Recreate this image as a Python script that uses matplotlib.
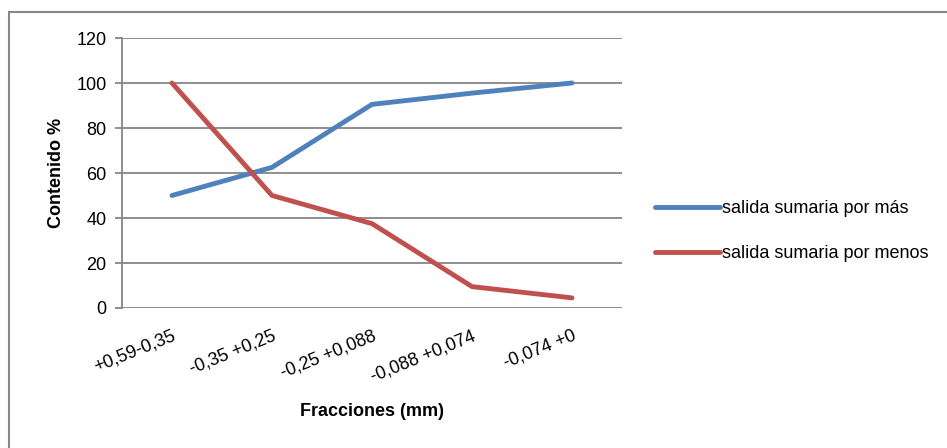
import matplotlib.pyplot as plt
from matplotlib.patches import Rectangle

plt.rcParams['font.family'] = ['Liberation Sans', 'DejaVu Sans']

fracciones = ["+0,59-0,35", "-0,35 +0,25", "-0,25 +0,088", "-0,088 +0,074", "-0,074 +0"]
por_mas = [50, 62.5, 90.5, 95.5, 100]
por_menos = [100, 50, 37.5, 9.5, 4.5]

BLUE = "#4F81BD"
RED = "#C0504D"
GRID = "#868686"

fig = plt.figure(figsize=(9.47, 4.48), dpi=100)
ax = fig.add_axes([122 / 947, 1 - 308 / 448, 500 / 947, 270 / 448])

# outer chart frame
fig.patches.append(Rectangle((9 / 947, -0.1), 1.2, 1 - 12 / 448 + 0.1,
                             transform=fig.transFigure, fill=False,
                             edgecolor="#888888", linewidth=1.5))

x = list(range(len(fracciones)))
ax.plot(x, por_mas, color=BLUE, linewidth=3.5, label="salida sumaria por más",
        solid_capstyle="round")
ax.plot(x, por_menos, color=RED, linewidth=3.5, label="salida sumaria por menos",
        solid_capstyle="round")

ax.set_xlim(-0.5, len(fracciones) - 0.5)
ax.set_ylim(0, 120)
ax.set_yticks(range(0, 121, 20))
ax.yaxis.grid(True, color=GRID, linewidth=1.3)
ax.set_axisbelow(True)

for s in ["top", "right", "bottom"]:
    ax.spines[s].set_visible(False)
ax.spines["left"].set_color(GRID)
ax.spines["left"].set_linewidth(1.3)
ax.tick_params(axis="y", length=5, color=GRID, width=1.3, labelsize=13, pad=6)

ax.set_xticks(x)
ax.set_xticklabels(fracciones, rotation=22, ha="right", rotation_mode="anchor",
                   fontsize=13)
ax.tick_params(axis="x", length=0, pad=14)

ax.set_ylabel("Contenido %", fontsize=13, fontweight="bold", labelpad=8)
ax.set_xlabel("Fracciones (mm)", fontsize=13, fontweight="bold", labelpad=13)

ax.legend(loc="center left", bbox_to_anchor=(1.066, 0.284), frameon=False,
          fontsize=13, handlelength=3.6, handletextpad=0.1, labelspacing=1.55,
          borderpad=0, borderaxespad=0)

fig.savefig("out.png", dpi=100)
